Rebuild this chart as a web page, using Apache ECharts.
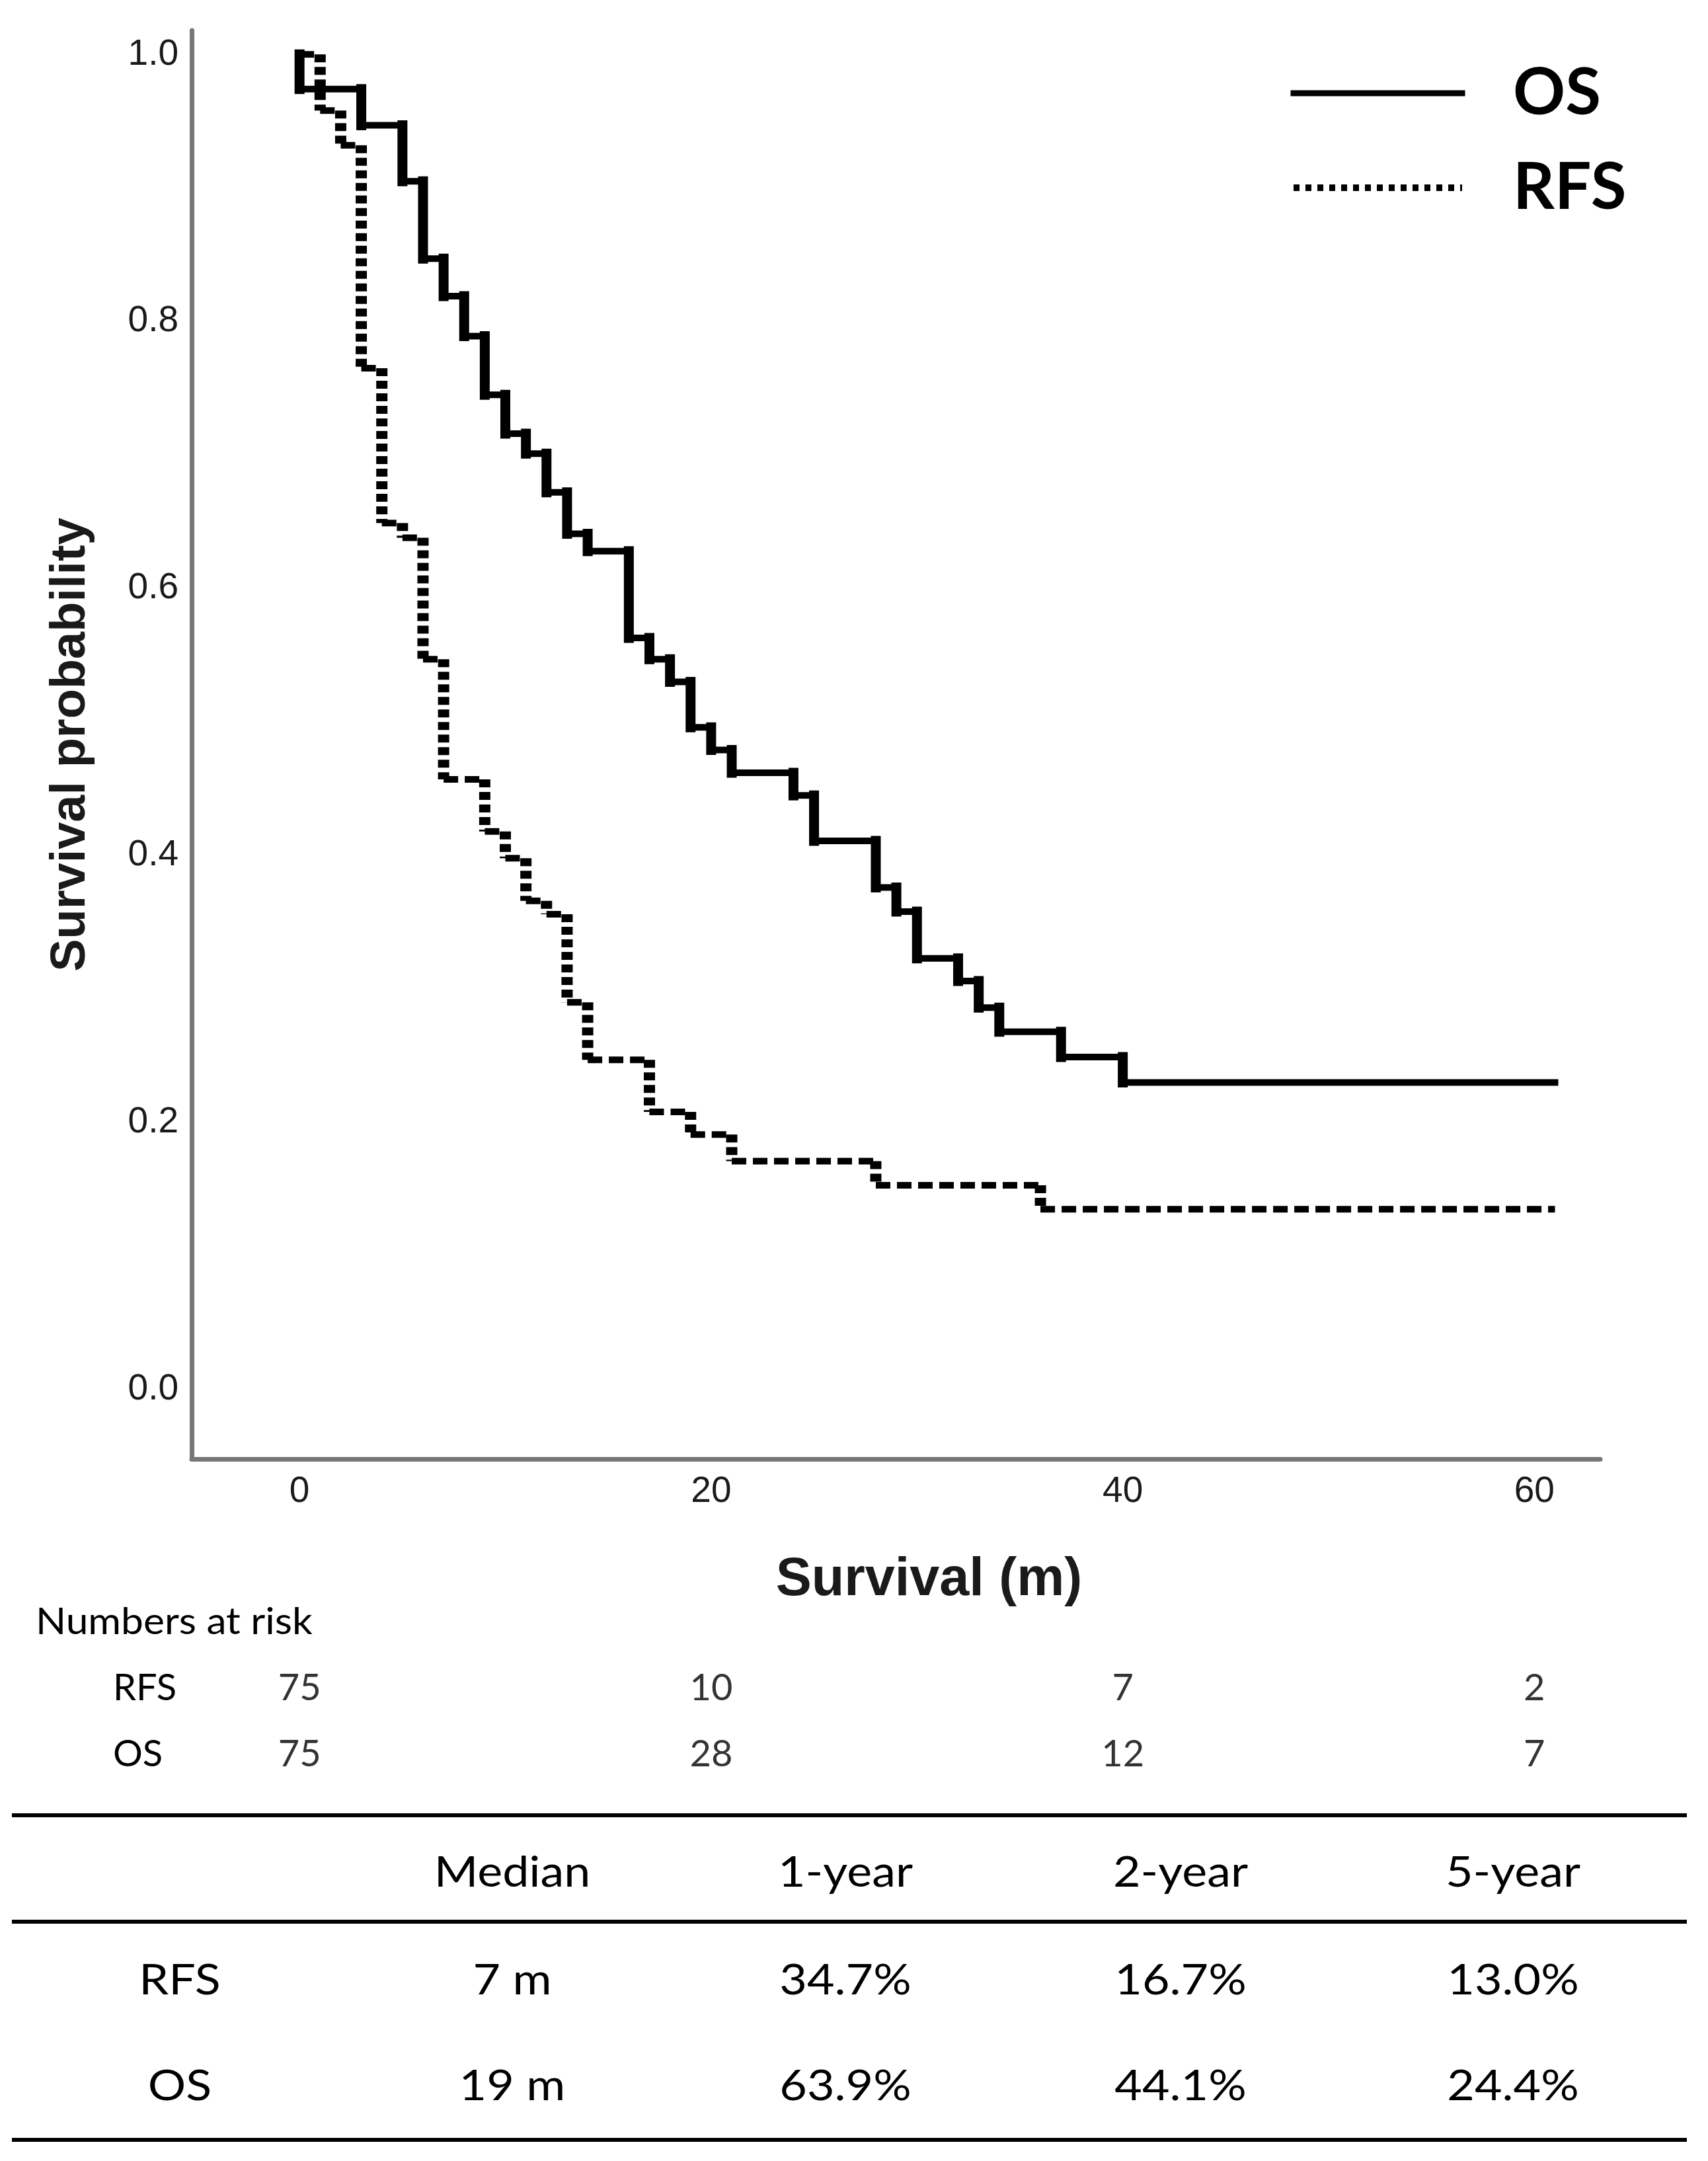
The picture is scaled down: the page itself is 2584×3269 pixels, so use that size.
<!DOCTYPE html>
<html>
<head>
<meta charset="utf-8">
<script src="https://cdn.jsdelivr.net/npm/echarts@6/dist/echarts.min.js"></script>
<style>
html,body{margin:0;padding:0;background:#ffffff;}
#chart{width:2584px;height:3269px;}
</style>
</head>
<body>
<div id="chart"></div>
<script>
// ---- data (Kaplan-Meier steps) ----
const osTimes = [0, 3, 5, 6, 7, 8, 9, 10, 11, 12, 13, 14, 16, 17, 18, 19, 20, 21, 24, 25, 28, 29, 30, 32, 33, 34, 37, 40];
const osSurv  = [0.974, 0.947, 0.905, 0.847, 0.819, 0.789, 0.745, 0.716, 0.701, 0.672, 0.641, 0.628, 0.563, 0.547, 0.530, 0.496, 0.479, 0.462, 0.445, 0.411, 0.376, 0.358, 0.323, 0.306, 0.286, 0.268, 0.249, 0.230];
const osEnd = 61;
const rfsTimes = [1, 2, 3, 4, 5, 6, 7, 9, 10, 11, 12, 13, 14, 17, 19, 21, 28, 36];
const rfsSurv  = [0.958, 0.932, 0.765, 0.649, 0.638, 0.547, 0.457, 0.418, 0.398, 0.366, 0.356, 0.290, 0.247, 0.208, 0.191, 0.171, 0.153, 0.135];
const rfsEnd = 61;

const xTicks = [0, 20, 40, 60];
const yTicks = [0, 0.2, 0.4, 0.6, 0.8, 1.0];

const riskGroups = ['RFS', 'OS'];
const riskTimes = [0, 20, 40, 60];
const riskRFS = [75, 10, 7, 2];
const riskOS  = [75, 28, 12, 7];

const tableHeader = ['', 'Median', '1-year', '2-year', '5-year'];
const tableRFS = ['RFS', '7 m', '34.7%', '16.7%', '13.0%'];
const tableOS  = ['OS', '19 m', '63.9%', '44.1%', '24.4%'];

// ---- build horizontal / vertical step segments from the step arrays ----
function stepSegments(times, surv, end) {
  const gap = ['-', '-'];
  const h = [], v = [];
  let t0 = 0, s0 = 1;
  for (let i = 0; i < times.length; i++) {
    const t = times[i], s = surv[i];
    if (t > t0) { h.push([t0, s0], [t, s0], gap); }
    v.push([t, s0], [t, s], gap);
    t0 = t; s0 = s;
  }
  h.push([t0, s0], [end, s0]);
  return { h: h, v: v };
}
const osSeg = stepSegments(osTimes, osSurv, osEnd);
const rfsSeg = stepSegments(rfsTimes, rfsSurv, rfsEnd);

const riskData = [];
riskTimes.forEach(function (t, i) { riskData.push([t, 'RFS', riskRFS[i]]); });
riskTimes.forEach(function (t, i) { riskData.push([t, 'OS', riskOS[i]]); });

// ---- table graphics ----
const colX = [272, 775, 1279, 1786, 2289];
const rowY = [2834, 2997, 3157];
const ruleY = [2746, 2907, 3237];
const graphics = [];
graphics.push({
  type: 'text', x: 54, y: 2454, scaleX: 1.08, silent: true,
  style: { text: 'Numbers at risk', fontFamily: 'Lato', fontSize: 56, fill: '#000', align: 'left', verticalAlign: 'middle' }
});
[tableHeader, tableRFS, tableOS].forEach(function (row, r) {
  row.forEach(function (cell, c) {
    if (!cell) return;
    graphics.push({
      type: 'text', x: colX[c], y: rowY[r], scaleX: 1.14, silent: true,
      style: { text: cell, fontFamily: 'Lato', fontSize: 63, fill: '#000', align: 'center', verticalAlign: 'middle' }
    });
  });
});
ruleY.forEach(function (y) {
  graphics.push({
    type: 'line', silent: true,
    shape: { x1: 18, y1: y, x2: 2552, y2: y },
    style: { stroke: '#000', lineWidth: 6 }
  });
});

const chart = echarts.init(document.getElementById('chart'), null, { renderer: 'canvas' });
const axisGrey = '#777777';
const tickFont = { fontFamily: 'Liberation Sans, Arial, sans-serif', fontSize: 55, color: '#1a1a1a' };
const xMin = -5.24, xMax = 63.2;

chart.setOption({
  backgroundColor: '#ffffff',
  animation: false,
  legend: {
    orient: 'vertical',
    left: 1947,
    top: 74,
    itemWidth: 255,
    itemHeight: 12,
    itemGap: 19,
    selectedMode: false,
    textStyle: { fontFamily: 'Lato', fontWeight: 'bold', fontSize: 98, lineHeight: 100, color: '#000', padding: [0, 0, 24, 72] },
    data: [
      { name: 'OS', itemStyle: { opacity: 0 }, lineStyle: { type: 'solid', width: 9, color: '#000' } },
      { name: 'RFS', itemStyle: { opacity: 0 }, lineStyle: { type: [9, 9], width: 10, color: '#000' } }
    ]
  },
  grid: [
    { left: 290, right: 163, top: 46, bottom: 1062, containLabel: false, outerBoundsMode: 'none' },
    { left: 290, right: 163, top: 2504, height: 200, containLabel: false, outerBoundsMode: 'none' }
  ],
  xAxis: [
    {
      type: 'value', gridIndex: 0, min: xMin, max: xMax,
      axisLine: { show: true, onZero: false, lineStyle: { color: axisGrey, width: 7 } },
      axisTick: { show: false },
      splitLine: { show: false },
      axisLabel: Object.assign({ customValues: xTicks, margin: 22 }, tickFont),
      name: 'Survival (m)',
      nameLocation: 'middle',
      nameGap: 143,
      nameTextStyle: { fontFamily: 'Liberation Sans, Arial, sans-serif', fontWeight: 'bold', fontSize: 81, color: '#1a1a1a', padding: [0, 0, 0, 100] }
    },
    { type: 'value', gridIndex: 1, min: xMin, max: xMax, show: false }
  ],
  yAxis: [
    {
      type: 'value', gridIndex: 0, min: -0.052, max: 1.018,
      axisLine: { show: true, onZero: false, lineStyle: { color: axisGrey, width: 7 } },
      axisTick: { show: false },
      splitLine: { show: false },
      axisLabel: Object.assign({ customValues: yTicks, margin: 20, formatter: function (v) { return v.toFixed(1); } }, tickFont),
      name: 'Survival probability',
      nameLocation: 'middle',
      nameRotate: 90,
      nameGap: 145,
      nameTextStyle: { fontFamily: 'Liberation Sans, Arial, sans-serif', fontWeight: 'bold', fontSize: 74, color: '#1a1a1a' }
    },
    {
      type: 'category', gridIndex: 1, data: riskGroups, inverse: true,
      axisLine: { show: false }, axisTick: { show: false }, splitLine: { show: false },
      axisLabel: { align: 'left', margin: 119, fontFamily: 'Lato', fontSize: 56, color: '#000' }
    }
  ],
  series: [
    {
      type: 'line', name: 'OS', data: osSeg.h, xAxisIndex: 0, yAxisIndex: 0,
      symbol: 'none', showSymbol: false, connectNulls: false, silent: true, z: 4,
      itemStyle: { color: '#000' },
      lineStyle: { color: '#000', width: 10, type: 'solid', cap: 'square' }
    },
    {
      type: 'line', name: 'OS', data: osSeg.v, xAxisIndex: 0, yAxisIndex: 0,
      symbol: 'none', showSymbol: false, connectNulls: false, silent: true, z: 4,
      itemStyle: { color: '#000' },
      lineStyle: { color: '#000', width: 15, type: 'solid', cap: 'square' }
    },
    {
      type: 'line', name: 'RFS', data: rfsSeg.h, xAxisIndex: 0, yAxisIndex: 0,
      symbol: 'none', showSymbol: false, connectNulls: false, silent: true, z: 3,
      itemStyle: { color: '#000' },
      lineStyle: { color: '#000', width: 10, type: [22, 10], cap: 'butt' }
    },
    {
      type: 'line', name: 'RFS', data: rfsSeg.v, xAxisIndex: 0, yAxisIndex: 0,
      symbol: 'none', showSymbol: false, connectNulls: false, silent: true, z: 3,
      itemStyle: { color: '#000' },
      lineStyle: { color: '#000', width: 17, type: [12, 7], cap: 'butt' }
    },
    {
      type: 'scatter', name: 'at risk', data: riskData, xAxisIndex: 1, yAxisIndex: 1,
      symbolSize: 1, silent: true, itemStyle: { color: 'rgba(0,0,0,0)' },
      label: {
        show: true, position: 'inside', fontFamily: 'Lato', fontSize: 56, color: '#000',
        formatter: function (p) { return String(p.value[2]); }
      }
    }
  ],
  graphic: graphics
});
</script>
</body>
</html>
